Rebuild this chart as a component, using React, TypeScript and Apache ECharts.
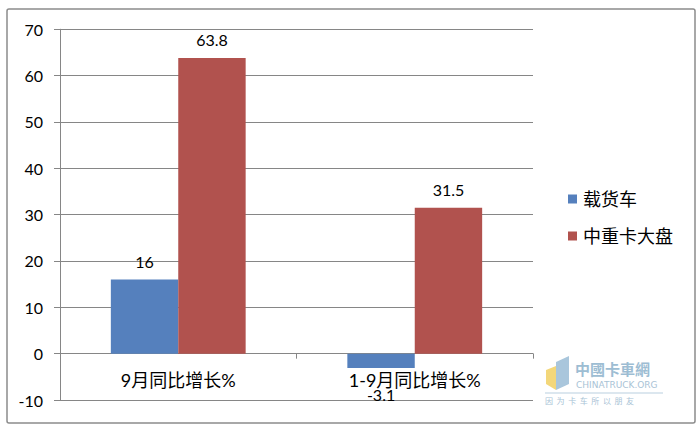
import React, { useEffect, useRef } from "react";
import * as echarts from "echarts";

const categories = ["9月同比增长%", "1-9月同比增长%"];
const seriesNames = ["载货车", "中重卡大盘"];
const truckValues = [16, -3.1];
const heavyValues = [63.8, 31.5];
const yTicks = { min: -10, max: 70, interval: 10 };

const FONT = "Lato, 'Noto Sans CJK SC', sans-serif";

function toItems(vals: number[]) {
  return vals.map((v) =>
    v < 0 ? { value: v, label: { position: "bottom", distance: 18 } } : { value: v }
  );
}

export default function App() {
  const ref = useRef<HTMLDivElement>(null);
  useEffect(() => {
    document.body.style.margin = "0";
    const chart = echarts.init(ref.current!, null, { renderer: "svg" });
    const labelCfg = {
      show: true,
      position: "top",
      distance: 10,
      color: "#000",
      fontSize: 16,
      fontFamily: FONT,
    };
    chart.setOption({
      animation: false,
      backgroundColor: "#fff",
      grid: {
        left: 60,
        right: 167,
        top: 29.25,
        bottom: 28,
        containLabel: false,
        outerBoundsMode: "none",
      },
      legend: {
        orient: "vertical",
        left: 563,
        top: 185,
        itemWidth: 9,
        itemHeight: 9,
        itemGap: 19,
        icon: "rect",
        textStyle: { fontSize: 18, color: "#000", fontFamily: FONT, padding: [0, 0, 0, 1] },
        data: seriesNames,
      },
      xAxis: {
        type: "category",
        data: categories,
        axisLine: { onZero: true, lineStyle: { color: "#868686", width: 1 } },
        axisTick: { show: true, alignWithLabel: false, length: 5, lineStyle: { color: "#868686" } },
        axisLabel: { color: "#000", fontSize: 18, fontFamily: FONT, margin: -29 },
      },
      yAxis: {
        type: "value",
        min: yTicks.min,
        max: yTicks.max,
        interval: yTicks.interval,
        axisLine: { show: true, lineStyle: { color: "#868686", width: 1 } },
        axisTick: { show: true, length: 6, lineStyle: { color: "#868686" } },
        axisLabel: { color: "#000", fontSize: 16, fontFamily: FONT, margin: 17 },
        splitLine: { show: true, lineStyle: { color: "#868686", width: 1 } },
      },
      series: [
        {
          name: seriesNames[0],
          type: "bar",
          data: toItems(truckValues),
          barGap: "0%",
          barCategoryGap: "43%",
          itemStyle: { color: "#5580BD" },
          label: labelCfg,
        },
        {
          name: seriesNames[1],
          type: "bar",
          data: toItems(heavyValues),
          barGap: "0%",
          barCategoryGap: "43%",
          itemStyle: { color: "#B1524E" },
          label: labelCfg,
        },
      ],
      graphic: [
        {
          type: "rect",
          shape: { x: 7, y: 9, width: 688, height: 414, r: 2 },
          style: { fill: "none", stroke: "#8c8c8c", lineWidth: 1.5 },
          silent: true,
          z: 100,
        },
        {
          type: "group",
          silent: true,
          children: [
            {
              type: "polygon",
              shape: { points: [[556, 362], [569, 356], [569, 384], [556, 390]] },
              style: { fill: "#a9c6dc" },
            },
            {
              type: "polygon",
              shape: { points: [[546, 370], [556, 366], [556, 390], [546, 384]] },
              style: { fill: "#f3d77a" },
            },
            {
              type: "text",
              x: 575,
              y: 361,
              style: { text: "中國卡車網", fontSize: 15, fill: "#9dbdd3", fontFamily: "'Noto Sans CJK TC', sans-serif", fontWeight: "bold" },
            },
            {
              type: "text",
              x: 576,
              y: 380,
              style: { text: "CHINATRUCK.ORG", fontSize: 9, fill: "#a9c3d6", fontFamily: "'DejaVu Sans', sans-serif" },
            },
            {
              type: "line",
              shape: { x1: 545, y1: 393, x2: 663, y2: 393 },
              style: { stroke: "#b9cfdf", lineWidth: 1 },
            },
            {
              type: "text",
              x: 545,
              y: 396,
              style: { text: "因  为  卡  车  所  以  朋  友", fontSize: 8, fill: "#a9c3d6", fontFamily: "'Noto Sans CJK SC', sans-serif" },
            },
          ],
        },
      ],
    });
    return () => chart.dispose();
  }, []);
  return <div ref={ref} style={{ width: 700, height: 428 }} />;
}
